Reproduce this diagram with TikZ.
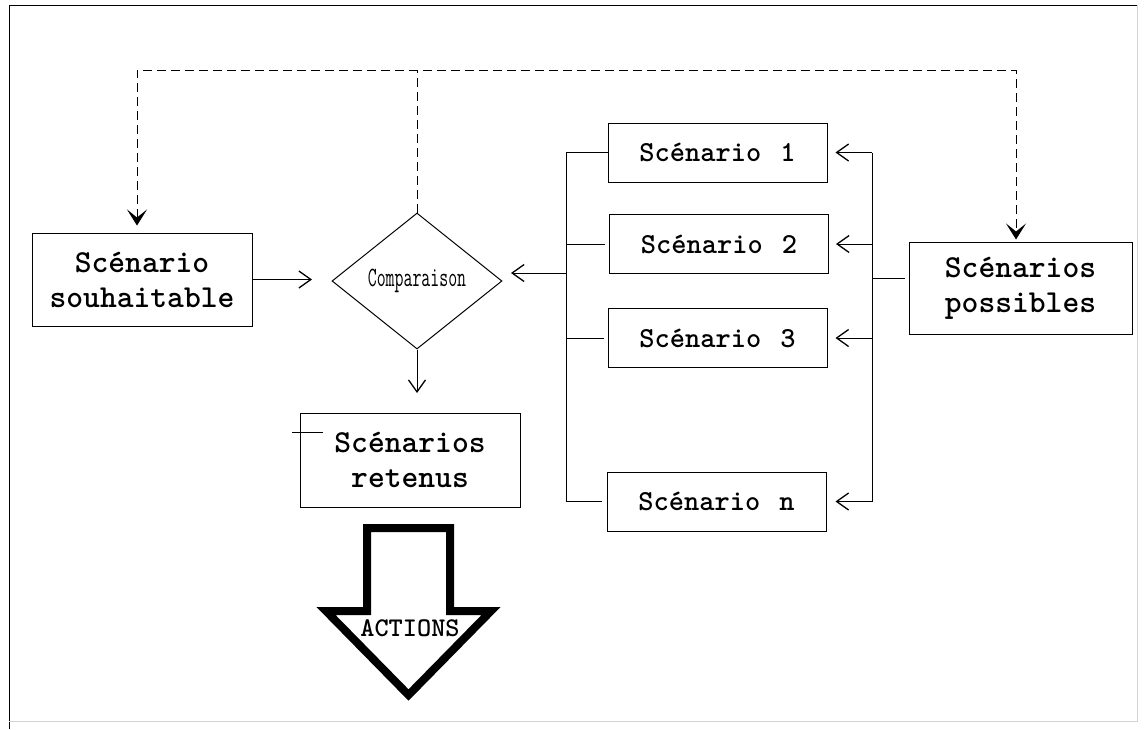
\documentclass[tikz,border=0pt]{standalone}
\usepackage{graphicx}
\usetikzlibrary{arrows.meta,shapes.geometric}
\newcommand\courb[2]{\ttfamily\bfseries\fontsize{#1}{#2}\selectfont}
\newcommand\courm[2]{\ttfamily\mdseries\fontsize{#1}{#2}\selectfont}
\tikzset{
  box/.style={draw, line width=1pt, inner sep=0pt, align=center, font=\courb{32}{35}},
  sbox/.style={box, minimum width=219, minimum height=59, font=\courb{29}{32}},
  sarrow/.style={-{Straight Barb[length=12pt,width=17pt,line width=1.3pt]}},
  dashpat/.style={dash pattern=on 9pt off 5pt},
}
\begin{document}
\begin{tikzpicture}[x=1pt,y=-1pt,line width=1pt]
\useasboundingbox (0,0) rectangle (1145,729);
% frame
\draw (9,729) -- (9,5) -- (1137,5);
\draw[gray!35] (1137,5) -- (1137,721) -- (9,721);
% nodes
\node[box, minimum width=220, minimum height=93] (sh) at (142,279.5) {Scénario\\souhaitable};
\node[diamond, draw, minimum width=170, minimum height=136, inner sep=0pt] (cmp) at (417,281)
  {\scalebox{0.62}[1]{\courm{28}{30}Comparaison}};
\node[sbox] (s1) at (717.5,152.5) {Scénario\hspace{19pt}1};
\node[sbox] (s2) at (719,244) {Scénario\hspace{19pt}2};
\node[sbox] (s3) at (717.5,338) {Scénario\hspace{19pt}3};
\node[sbox] (sn) at (716.5,501.5) {Scénario\hspace{19pt}n};
\node[box, minimum width=223, minimum height=92] (sp) at (1020.5,288) {Scénarios\\possibles};
\node[box, minimum width=220, minimum height=94] (sr) at (410,460) {Scénarios\\retenus};
% coordinates
\coordinate (lbx) at (566,0);
\coordinate (rbx) at (872,0);
\coordinate (dl) at (137,70);
\coordinate (dr) at (1016,70);
\coordinate (cin) at (511,273);
\coordinate (cl) at (312,279.5);
\coordinate (rt) at (417,393);
\coordinate (spc) at (905,278);
% dashed feedback
\draw[dashpat, {Stealth[length=16pt,width=20pt,inset=8pt]}-{Stealth[length=16pt,width=20pt,inset=8pt]}, shorten <=7pt, shorten >=2pt]
  (dl |- sh.north) -- (dl) -- (dr) -- (dr |- sp.north);
\draw[dashpat] (cmp.north) -- (cmp.north |- dl);
% left bus
\draw (s1.west) -- (s1.west -| lbx) -- (sn.west -| lbx) -- ([xshift=-5pt]sn.west);
\draw ([xshift=-4pt]s2.west) -- (s2.west -| lbx);
\draw ([xshift=-4pt]s3.west) -- (s3.west -| lbx);
\draw[sarrow] (cin -| lbx) -- (cin);
% right bus
\draw (s1.east -| rbx) -- (sn.east -| rbx);
\draw[sarrow] (s1.east -| rbx) -- ([xshift=8pt]s1.east);
\draw[sarrow] (s2.east -| rbx) -- ([xshift=7pt]s2.east);
\draw[sarrow] (s3.east -| rbx) -- ([xshift=8pt]s3.east);
\draw[sarrow] (sn.east -| rbx) -- ([xshift=9pt]sn.east);
\draw (spc -| rbx) -- (spc);
% other arrows
\draw[sarrow] (sh.east) -- (cl);
\draw[sarrow] (cmp.south) -- (rt);
\draw (292,432) -- (323,432);
% ACTIONS arrow
\draw[line width=8pt, miter limit=10] (367,528) -- (450,528) -- (450,611) -- (491,611)
  -- (408.5,695) -- (326,611) -- (367,611) -- cycle;
\node[font=\courb{27}{29}] (act) at (410,628) {ACTIONS};
\end{tikzpicture}
\end{document}
